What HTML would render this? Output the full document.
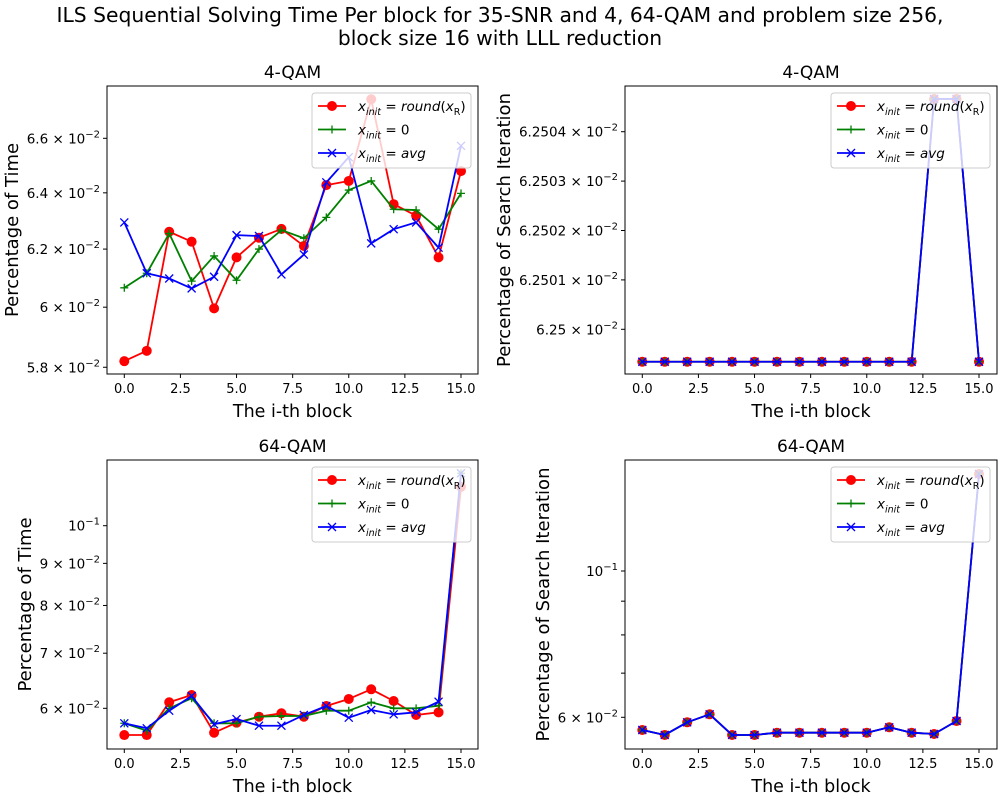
<!DOCTYPE html>
<html><head><meta charset="utf-8"><style>
body{margin:0;background:#fff}
svg{font-family:"DejaVu Sans","Liberation Sans",sans-serif}
</style></head><body>
<svg id="fig" width="1000" height="800" viewBox="0 0 1000 800" xmlns="http://www.w3.org/2000/svg">
<rect width="1000" height="800" fill="#fff"/>
<text x="500" y="22" font-size="20.3" text-anchor="middle">ILS Sequential Solving Time Per block for 35-SNR and 4, 64-QAM and problem size 256,</text>
<text x="500" y="45" font-size="20.3" text-anchor="middle">block size 16 with LLL reduction</text>
</svg>
<script>
const blocks = [0,1,2,3,4,5,6,7,8,9,10,11,12,13,14,15];
const xTicks = [0,2.5,5,7.5,10,12.5,15];
// Top-left: 4-QAM time (units of 1e-2)
const tlRound = [5.820,5.854,6.261,6.226,5.996,6.171,6.240,6.271,6.211,6.428,6.443,6.747,6.359,6.318,6.171,6.479];
const tlZero  = [6.066,6.116,6.255,6.089,6.176,6.092,6.200,6.267,6.238,6.312,6.410,6.443,6.341,6.338,6.270,6.398];
const tlAvg   = [6.294,6.116,6.098,6.064,6.104,6.249,6.246,6.112,6.181,6.438,6.530,6.220,6.270,6.294,6.205,6.572];
const tlTicks = [5.8,6.0,6.2,6.4,6.6];
const tlTickLabels = ["5.8","6","6.2","6.4","6.6"];
// Top-right: 4-QAM search iteration (units of 1e-2)
const trVals = [6.2499343,6.2499343,6.2499343,6.2499343,6.2499343,6.2499343,6.2499343,6.2499343,6.2499343,6.2499343,6.2499343,6.2499343,6.2499343,6.2504662,6.2504662,6.2499343];
const trTicks = [6.25,6.2501,6.2502,6.2503,6.2504];
const trTickLabels = ["6.25","6.2501","6.2502","6.2503","6.2504"];
// Bottom-left: 64-QAM time
const blRound = [5.568,5.568,6.102,6.228,5.604,5.764,5.861,5.917,5.861,6.039,6.159,6.328,6.124,5.889,5.933,11.15];
const blZero  = [5.754,5.636,6.000,6.171,5.754,5.754,5.861,5.873,5.873,5.960,5.960,6.102,6.000,6.000,6.044,11.58];
const blAvg   = [5.754,5.674,5.960,6.210,5.738,5.823,5.715,5.715,5.889,6.039,5.845,5.972,5.900,5.933,6.112,11.58];
const blTicks = [6,7,8,9,10];
const blTickLabels = ["6","7","8","9","10"];
// Bottom-right: 64-QAM search iteration
const brVals = [5.740,5.641,5.896,6.063,5.641,5.641,5.686,5.686,5.686,5.686,5.686,5.794,5.686,5.660,5.923,14.03];
const brTicks = [6,7,8,9,10];
const brTickLabels = ["6","","","","10"];

const NS="http://www.w3.org/2000/svg";
const svg=document.getElementById('fig');
function mk(tag,attrs,parent){const e=document.createElementNS(NS,tag);for(const k in attrs)e.setAttribute(k,attrs[k]);(parent||svg).appendChild(e);return e;}

function panel(cfg){
  const g=mk('g',{});
  
  
  const L=cfg.L,R=cfg.R,T=cfg.T,B=cfg.B;
  const xs=v=>cfg.x0+(v-0)*(cfg.x15-cfg.x0)/15;
  const ys=v=>cfg.yRef-(Math.log(v)-Math.log(cfg.vRef))*cfg.k;
  const clip=mk('clipPath',{id:'clip-'+cfg.name},g);
  mk('rect',{x:L,y:T,width:R-L,height:B-T},clip);
  xTicks.forEach(t=>{
    const l=mk('line',{x1:xs(t),x2:xs(t),y1:B,y2:B+4,stroke:'#000','stroke-width':1},g);
    
    
    const tx=mk('text',{x:xs(t),y:B+19,'font-size':13,'text-anchor':'middle'},g);
    tx.textContent=t.toFixed(1);
    
    
  });
  cfg.yTicks.forEach((t,i)=>{
    const y=ys(t);
    const l=mk('line',{x1:L-4,x2:L,y1:y,y2:y,stroke:'#000','stroke-width':1},g);
    
    
    const lab=cfg.yLabels[i];
    if(lab==="")return;
    const tx=mk('text',{x:L-7,y:y+5,'font-size':13.5,'text-anchor':'end'},g);
    
    
    if(lab==="10"){
      tx.innerHTML='10<tspan font-size="10" dy="-6">−1</tspan>';
    } else {
      tx.innerHTML=lab+' × 10<tspan font-size="10" dy="-6">−2</tspan>';
    }
  });
  const sg=mk('g',{'clip-path':'url(#clip-'+cfg.name+')'},g);
  const styles=[{c:'#ff0000',m:'o'},{c:'#008000',m:'+'},{c:'#0000ff',m:'x'}];
  cfg.series.forEach((vals,si)=>{
    const st=styles[si];
    const pts=blocks.map((b,i)=>xs(b).toFixed(2)+','+ys(vals[i]).toFixed(2)).join(' ');
    const pl=mk('polyline',{points:pts,fill:'none',stroke:st.c,'stroke-width':1.8,'stroke-linejoin':'round'},sg);
    
    
    blocks.forEach((b,i)=>{
      const x=xs(b),y=ys(vals[i]);
      let m;
      if(st.m==='o'){m=mk('circle',{cx:x,cy:y,r:5,fill:st.c},sg);}
      else if(st.m==='+'){m=mk('path',{d:`M${x-4},${y}H${x+4}M${x},${y-4}V${y+4}`,stroke:st.c,'stroke-width':1.3},sg);}
      else {m=mk('path',{d:`M${x-4},${y-4}L${x+4},${y+4}M${x-4},${y+4}L${x+4},${y-4}`,stroke:st.c,'stroke-width':1.3},sg);}
      
      
    });
  });
  const fr=mk('rect',{x:L,y:T,width:R-L,height:B-T,fill:'none',stroke:'#000','stroke-width':1},g);
  
  
  const ti=mk('text',{x:(L+R)/2,y:T-8,'font-size':17,'text-anchor':'middle'},g);
  ti.textContent=cfg.title;
  
  
  const xl=mk('text',{x:(L+R)/2,y:B+43,'font-size':17.5,'text-anchor':'middle'},g);
  xl.textContent='The i-th block';
  
  
  const yl=mk('text',{x:0,y:0,'font-size':18,'text-anchor':'middle',transform:`translate(${cfg.ylx},${(T+B)/2}) rotate(-90)`},g);
  yl.textContent=cfg.ylabel;
  
  
  const lg=mk('g',{},g);
  
  
  const lx=R-166, ly=T+7;
  mk('rect',{x:lx,y:ly,width:159,height:75,rx:3,fill:'#fff','fill-opacity':0.8,stroke:'#ccc'},lg);
  const labels=['<tspan font-style="italic">x</tspan><tspan font-size="9.5" dy="4" font-style="italic">init</tspan><tspan dy="-4"> = </tspan><tspan font-style="italic">round</tspan>(<tspan font-style="italic">x</tspan><tspan font-size="9.5" dy="4">R</tspan><tspan dy="-4">)</tspan>',
    '<tspan font-style="italic">x</tspan><tspan font-size="9.5" dy="4" font-style="italic">init</tspan><tspan dy="-4"> = 0</tspan>',
    '<tspan font-style="italic">x</tspan><tspan font-size="9.5" dy="4" font-style="italic">init</tspan><tspan dy="-4"> = </tspan><tspan font-style="italic">avg</tspan>'];
  styles.forEach((st,i)=>{
    const ey=ly+13+i*23.5;
    const e=mk('g',{},lg);
    
    
    mk('line',{x1:lx+6,x2:lx+34,y1:ey,y2:ey,stroke:st.c,'stroke-width':1.8},e);
    const cx=lx+20;
    if(st.m==='o')mk('circle',{cx:cx,cy:ey,r:5,fill:st.c},e);
    else if(st.m==='+')mk('path',{d:`M${cx-4},${ey}H${cx+4}M${cx},${ey-4}V${ey+4}`,stroke:st.c,'stroke-width':1.3},e);
    else mk('path',{d:`M${cx-4},${ey-4}L${cx+4},${ey+4}M${cx-4},${ey+4}L${cx+4},${ey-4}`,stroke:st.c,'stroke-width':1.3},e);
    const t=mk('text',{x:lx+46,y:ey+5,'font-size':13.5},e);
    t.innerHTML=labels[i];
  });
}

panel({name:'subplot-4qam-time',L:107,R:478,T:86,B:374,x0:124.3,x15:461,vRef:6.6,yRef:138.3,k:1772,
  yTicks:tlTicks,yLabels:tlTickLabels,series:[tlRound,tlZero,tlAvg],title:'4-QAM',ylabel:'Percentage of Time',ylx:18});
panel({name:'subplot-4qam-search',L:625,R:997,T:86,B:374,x0:642.3,x15:979,vRef:6.25,yRef:329.3,k:49.4*62500,
  yTicks:trTicks,yLabels:trTickLabels,series:[trVals,trVals,trVals],title:'4-QAM',ylabel:'Percentage of Search Iteration',ylx:510});
panel({name:'subplot-64qam-time',L:107,R:478,T:460,B:749,x0:124.3,x15:461,vRef:10,yRef:525.7,k:357.5,
  yTicks:blTicks,yLabels:blTickLabels,series:[blRound,blZero,blAvg],title:'64-QAM',ylabel:'Percentage of Time',ylx:31});
panel({name:'subplot-64qam-search',L:625,R:997,T:460,B:749,x0:642.3,x15:979,vRef:10,yRef:571,k:286.4,
  yTicks:brTicks,yLabels:brTickLabels,series:[brVals,brVals,brVals],title:'64-QAM',ylabel:'Percentage of Search Iteration',ylx:549});
</script>
</body></html>
